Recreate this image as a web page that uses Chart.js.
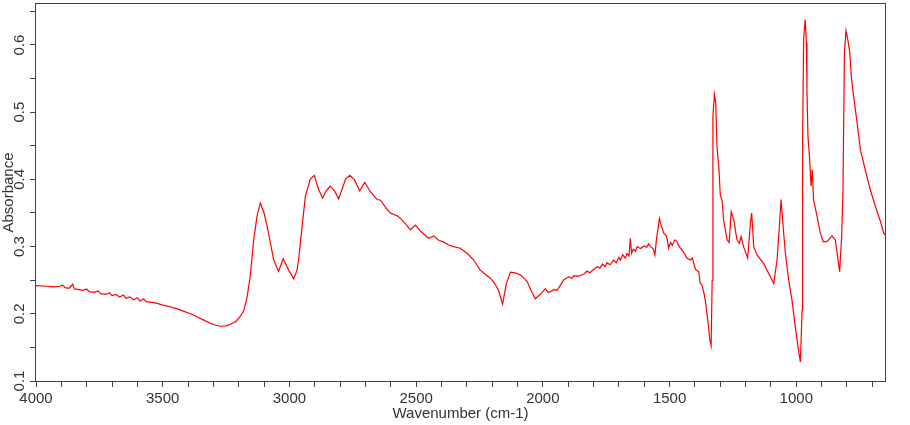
<!DOCTYPE html>
<html lang="en">
<head>
    <meta charset="UTF-8">
    <title>IR Spectrum</title>
    <script src="https://cdn.jsdelivr.net/npm/chart.js"></script>
    <style>
        body {
            margin: 0;
            background: #ffffff;
        }
        canvas {
            display: block;
        }
    </style>
</head>
<body>

    <canvas id="irChart" width="910" height="425"></canvas>

    <script>
        // wavenumber (cm-1)
        const wavenumbers = [
            4000, 3960, 3930, 3905, 3895, 3885, 3870, 3855, 3848, 3830, 3815, 3800, 3790, 3770, 3755, 3745,
            3725, 3710, 3700, 3685, 3670, 3655, 3645, 3630, 3615, 3600, 3590, 3575, 3565, 3545, 3522, 3500,
            3470, 3440, 3418, 3390, 3365, 3340, 3312, 3290, 3273, 3250, 3233, 3210, 3194, 3180, 3167, 3155,
            3141, 3128, 3115, 3100, 3088, 3075, 3062, 3043, 3025, 3003, 2983, 2970, 2964, 2950, 2937, 2918,
            2902, 2885, 2869, 2855, 2839, 2822, 2806, 2790, 2779, 2762, 2744, 2723, 2703, 2681, 2654, 2641,
            2620, 2602, 2575, 2562, 2540, 2523, 2503, 2480, 2451, 2431, 2410, 2393, 2370, 2352, 2326, 2299,
            2273, 2247, 2225, 2207, 2190, 2175, 2159, 2144, 2128, 2110, 2089, 2075, 2062, 2047, 2030, 2010,
            1990, 1980, 1971, 1955, 1944, 1930, 1918, 1898, 1885, 1879, 1860, 1845, 1835, 1826, 1815, 1800,
            1786, 1775, 1765, 1755, 1747, 1735, 1721, 1710, 1700, 1694, 1685, 1675, 1668, 1660, 1655, 1650,
            1643, 1635, 1628, 1615, 1600, 1590, 1583, 1575, 1565, 1558, 1552, 1540, 1532, 1523, 1512, 1504,
            1496, 1489, 1480, 1471, 1462, 1451, 1440, 1431, 1418, 1410, 1398, 1385, 1379, 1372, 1365, 1359,
            1346, 1342, 1336, 1332, 1329, 1323, 1318, 1313, 1305, 1300, 1293, 1287, 1273, 1265, 1257, 1247,
            1234, 1225, 1218, 1208, 1192, 1181, 1176, 1168, 1155, 1129, 1109, 1089, 1076, 1068, 1060, 1052,
            1043, 1030, 1017, 1004, 995, 984, 977, 975, 971, 965, 960, 958, 954, 947, 942, 937,
            932, 918, 905, 894, 879, 859, 846, 837, 829, 821, 816, 810, 804, 797, 789, 783,
            774, 760, 747, 728, 708, 688, 668, 655, 650
        ];

        const absorbance = [
            0.242, 0.241, 0.240, 0.241, 0.243, 0.239, 0.238, 0.244, 0.237, 0.236, 0.235, 0.237, 0.233, 0.232, 0.234, 0.230,
            0.229, 0.231, 0.227, 0.229, 0.225, 0.228, 0.223, 0.225, 0.221, 0.224, 0.219, 0.222, 0.218, 0.217, 0.2155, 0.213,
            0.2105, 0.207, 0.204, 0.200, 0.1955, 0.191, 0.186, 0.183, 0.1815, 0.182, 0.1845, 0.189, 0.196, 0.205, 0.225, 0.255,
            0.310, 0.345, 0.365, 0.350, 0.330, 0.305, 0.280, 0.263, 0.282, 0.265, 0.252, 0.265, 0.280, 0.330, 0.375, 0.400,
            0.406, 0.385, 0.372, 0.383, 0.390, 0.383, 0.371, 0.388, 0.400, 0.406, 0.400, 0.383, 0.3955, 0.382, 0.370, 0.369,
            0.358, 0.350, 0.346, 0.342, 0.333, 0.325, 0.332, 0.322, 0.3125, 0.316, 0.309, 0.307, 0.302, 0.300, 0.2975, 0.290,
            0.280, 0.265, 0.258, 0.253, 0.245, 0.235, 0.2145, 0.245, 0.262, 0.261, 0.258, 0.253, 0.248, 0.235, 0.2225, 0.229,
            0.2375, 0.232, 0.233, 0.236, 0.235, 0.243, 0.2505, 0.255, 0.253, 0.2565, 0.256, 0.258, 0.260, 0.2635, 0.261, 0.266,
            0.270, 0.268, 0.274, 0.270, 0.276, 0.273, 0.280, 0.276, 0.284, 0.280, 0.288, 0.283, 0.2895, 0.286, 0.3125, 0.290,
            0.296, 0.293, 0.300, 0.297, 0.301, 0.299, 0.304, 0.300, 0.297, 0.2875, 0.310, 0.342, 0.330, 0.320, 0.316, 0.298,
            0.306, 0.302, 0.310, 0.3075, 0.300, 0.295, 0.289, 0.2827, 0.280, 0.283, 0.266, 0.2627, 0.245, 0.2428, 0.232, 0.220,
            0.1806, 0.163, 0.153, 0.250, 0.494, 0.5264, 0.514, 0.449, 0.4145, 0.377, 0.3697, 0.340, 0.310, 0.306, 0.352, 0.340,
            0.310, 0.305, 0.315, 0.300, 0.2827, 0.335, 0.350, 0.300, 0.2876, 0.275, 0.260, 0.245, 0.280, 0.3235, 0.370, 0.330,
            0.290, 0.250, 0.2204, 0.1806, 0.1558, 0.1284, 0.2055, 0.464, 0.6085, 0.638, 0.6035, 0.534, 0.464, 0.429, 0.390, 0.4145,
            0.370, 0.345, 0.320, 0.3075, 0.3075, 0.316, 0.310, 0.285, 0.2627, 0.315, 0.380, 0.5887, 0.621, 0.6085, 0.5887, 0.5537,
            0.524, 0.484, 0.444, 0.4145, 0.3846, 0.3597, 0.3373, 0.320, 0.3175
        ];

        const xLabelStep = 500;   // labelled x ticks
        const yLabelStep = 0.1;   // labelled y ticks

        const axisColor = '#404040';
        const textColor = '#333333';
        const fontFamily = '"Liberation Sans", Arial, sans-serif';

        const points = wavenumbers.map((w, i) => ({ x: w, y: absorbance[i] }));

        // frame round the plot + rotated y labels and title
        const framePlugin = {
            id: 'frame',
            afterDraw(chart) {
                const { ctx, chartArea: a } = chart;
                const yScale = chart.scales.y;
                ctx.save();
                ctx.strokeStyle = axisColor;
                ctx.lineWidth = 1;
                ctx.strokeRect(a.left - 0.5, a.top - 0.5, a.right - a.left + 1, a.bottom - a.top + 1);

                ctx.fillStyle = textColor;
                ctx.font = '15px ' + fontFamily;
                ctx.textAlign = 'center';
                ctx.textBaseline = 'middle';
                yScale.ticks.forEach(t => {
                    const v = Math.round(t.value * 100);
                    if (v % 10 !== 0) return;
                    const py = yScale.getPixelForValue(t.value);
                    ctx.save();
                    ctx.translate(20, py);
                    ctx.rotate(-Math.PI / 2);
                    ctx.fillText((v / 100).toFixed(1), 0, 0);
                    ctx.restore();
                });

                ctx.save();
                ctx.translate(9, (a.top + a.bottom) / 2);
                ctx.rotate(-Math.PI / 2);
                ctx.fillText('Absorbance', 0, 0);
                ctx.restore();
                ctx.restore();
            }
        };

        const ctx = document.getElementById('irChart').getContext('2d');

        new Chart(ctx, {
            type: 'line',
            data: {
                datasets: [{
                    label: 'Absorbance',
                    data: points,
                    borderColor: '#ff0000',
                    borderWidth: 1.2,
                    pointRadius: 0,
                    fill: false,
                    tension: 0
                }]
            },
            options: {
                responsive: false,
                animation: false,
                layout: {
                    padding: { top: 4, right: 25, left: 0, bottom: 0 }
                },
                plugins: {
                    legend: { display: false },
                    tooltip: { enabled: false }
                },
                scales: {
                    x: {
                        type: 'linear',
                        reverse: true,
                        min: 650,
                        max: 4000,
                        afterFit: scale => { scale.height = 44; },
                        border: { display: false },
                        grid: {
                            drawOnChartArea: false,
                            drawTicks: true,
                            tickLength: 6,
                            tickColor: axisColor
                        },
                        ticks: {
                            stepSize: 100,
                            includeBounds: false,
                            autoSkip: false,
                            maxRotation: 0,
                            padding: 3,
                            color: textColor,
                            font: { size: 15, family: fontFamily },
                            callback: v => (v % xLabelStep === 0 ? String(v) : '')
                        },
                        title: {
                            display: true,
                            text: 'Wavenumber (cm-1)',
                            color: textColor,
                            font: { size: 15, family: fontFamily },
                            padding: { top: 0, bottom: 2 }
                        }
                    },
                    y: {
                        min: 0.1,
                        max: 0.661,
                        afterFit: scale => { scale.width = 36; },
                        border: { display: false },
                        grid: {
                            drawOnChartArea: false,
                            drawTicks: true,
                            tickLength: 6,
                            tickColor: axisColor
                        },
                        ticks: {
                            stepSize: yLabelStep / 2,
                            includeBounds: false,
                            display: false
                        }
                    }
                }
            },
            plugins: [framePlugin]
        });
    </script>

</body>
</html>
